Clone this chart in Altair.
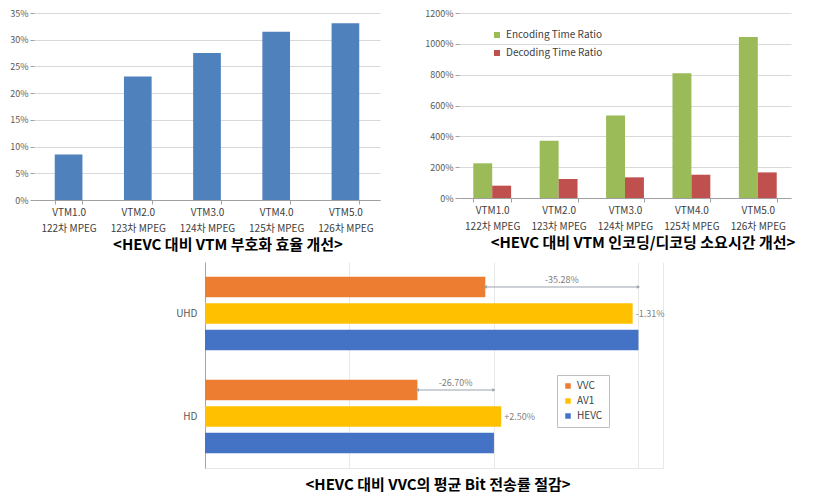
import altair as alt
import pandas as pd

FONT = "Noto Sans CJK KR"

# ---------- data ----------
versions = ["VTM1.0|122차 MPEG", "VTM2.0|123차 MPEG", "VTM3.0|124차 MPEG",
            "VTM4.0|125차 MPEG", "VTM5.0|126차 MPEG"]
coding_gain = [8.5, 23.1, 27.5, 31.5, 33.1]

ratio_series = ["Encoding Time Ratio", "Decoding Time Ratio"]
enc_ratio = [225, 372, 535, 810, 1044]
dec_ratio = [80, 123, 134, 151, 166]

resolutions = ["UHD", "HD"]
codecs = ["VVC", "AV1", "HEVC"]
bitrate_uhd = [1.94, 2.96, 3.0]
bitrate_hd = [1.47, 2.05, 2.0]
av1_notes = ["-1.31%", "+2.50%"]
vvc_notes = ["-35.28%", "-26.70%"]

captions = ["<HEVC 대비 VTM 부호화 효율 개선>",
            "<HEVC 대비 VTM 인코딩/디코딩 소요시간 개선>",
            "<HEVC 대비 VVC의 평균 Bit 전송률 절감>"]

# ---------- tables ----------
df1 = pd.DataFrame({"ver": versions, "gain": coding_gain})

rows2 = []
for v, e, d in zip(versions, enc_ratio, dec_ratio):
    rows2.append({"ver": v, "series": ratio_series[0], "val": e})
    rows2.append({"ver": v, "series": ratio_series[1], "val": d})
df2 = pd.DataFrame(rows2)

rows3 = []
for res, vals in zip(resolutions, [bitrate_uhd, bitrate_hd]):
    for c, v in zip(codecs, vals):
        rows3.append({"res": res, "codec": c, "value": v})
df3 = pd.DataFrame(rows3)

df_av1 = pd.DataFrame({"res": resolutions, "codec": ["AV1", "AV1"],
                       "value": [bitrate_uhd[1], bitrate_hd[1]], "note": av1_notes})
df_arrow = pd.DataFrame({"res": resolutions, "codec": ["VVC", "VVC"],
                         "start": [bitrate_uhd[0], bitrate_hd[0]],
                         "end": [bitrate_uhd[2], bitrate_hd[2]], "note": vvc_notes})

# ---------- common styles ----------
x_band_axis = dict(title=None, labelAngle=0, labelExpr="split(datum.label, '|')",
                   labelLineHeight=16, labelPadding=3, tickBand="extent", tickSize=4,
                   tickColor="#a0a0a0", domainColor="#a0a0a0", labelFont=FONT,
                   labelFontSize=10, labelColor="#404040", grid=False)
y_pct_axis = dict(title=None, labelExpr="datum.value + '%'", domain=False, tickSize=4,
                  tickColor="#a0a0a0", gridColor="#d9d9d9", labelFont=FONT,
                  labelFontSize=9, labelColor="#595959", labelPadding=2)


def caption(text, dx, offset):
    return alt.TitleParams(text, orient="bottom", frame="group", dx=dx, offset=offset,
                           font=FONT, fontSize=15, fontWeight="bold", color="#000000")


# ---------- panel 1 ----------
c1 = alt.Chart(df1).mark_bar(color="#4F81BD").encode(
    x=alt.X("ver:N", sort=versions, scale=alt.Scale(paddingInner=0.6, paddingOuter=0.3),
            axis=alt.Axis(**x_band_axis)),
    y=alt.Y("gain:Q", scale=alt.Scale(domain=[0, 35], nice=False),
            axis=alt.Axis(values=list(range(0, 36, 5)), minExtent=26, maxExtent=26, **y_pct_axis)),
).properties(width=346, height=187, title=caption(captions[0], 21, 5))

# ---------- panel 2 ----------
c2 = alt.Chart(df2).mark_bar().encode(
    x=alt.X("ver:N", sort=versions, scale=alt.Scale(paddingInner=0.43, paddingOuter=0.215),
            axis=alt.Axis(**x_band_axis)),
    xOffset=alt.XOffset("series:N", sort=ratio_series,
                        scale=alt.Scale(domain=ratio_series, paddingInner=0, paddingOuter=0)),
    y=alt.Y("val:Q", scale=alt.Scale(domain=[0, 1200], nice=False),
            axis=alt.Axis(values=list(range(0, 1201, 200)), minExtent=32, maxExtent=32, **y_pct_axis)),
    color=alt.Color("series:N", sort=ratio_series,
                    scale=alt.Scale(domain=ratio_series, range=["#9BBB59", "#C0504D"]),
                    legend=alt.Legend(orient="none", legendX=33, legendY=17, title=None,
                                      symbolType="square", symbolSize=36, symbolStrokeWidth=0,
                                      labelFont=FONT, labelFontSize=10, labelColor="#404040",
                                      rowPadding=8, padding=0)),
).properties(width=332, height=185, title=caption(captions[1], 18, 5))

# ---------- panel 3 ----------
y_enc = alt.Y("res:N", sort=resolutions, scale=alt.Scale(paddingInner=0, paddingOuter=0),
              axis=alt.Axis(title=None, domainColor="#a6a6a6", ticks=False, labelFont=FONT,
                            labelFontSize=10, labelColor="#595959", labelPadding=8,
                            minExtent=30, maxExtent=30))
yoff_enc = alt.YOffset("codec:N", sort=codecs,
                       scale=alt.Scale(domain=codecs, paddingInner=0.234, paddingOuter=0.56))
x_scale = alt.Scale(domain=[0, 3.17], nice=False, zero=True)
x_axis = alt.Axis(title=None, labels=False, ticks=False, values=[0, 1, 2, 3, 3.17],
                  gridColor="#e8e8e8", domainColor="#e6e6e6")

bars = alt.Chart(df3).mark_bar().encode(
    y=y_enc, yOffset=yoff_enc,
    x=alt.X("value:Q", scale=x_scale, axis=x_axis),
    color=alt.Color("codec:N", sort=codecs,
                    scale=alt.Scale(domain=codecs, range=["#ED7D31", "#FFC000", "#4472C4"]),
                    legend=alt.Legend(orient="none", legendX=523, legendY=113, title=None,
                                      symbolType="square", symbolSize=30, symbolStrokeWidth=0,
                                      strokeColor="#bfbfbf", padding=6, rowPadding=5,
                                      fillColor="white",
                                      labelFont=FONT, labelFontSize=10, labelColor="#404040")),
)

av1_text = alt.Chart(df_av1).mark_text(align="left", baseline="middle", dx=3, font=FONT,
                                       fontSize=9, color="#7f7f7f").encode(
    y=y_enc, yOffset=yoff_enc, x=alt.X("value:Q", scale=x_scale), text="note:N")

arrow_line = alt.Chart(df_arrow).mark_rule(color="#9aa3ad", strokeWidth=1).encode(
    y=y_enc, yOffset=yoff_enc, x=alt.X("start:Q", scale=x_scale), x2="end:Q")
arrow_l = alt.Chart(df_arrow).mark_point(shape="triangle-left", filled=True, size=14,
                                         color="#9aa3ad", opacity=1).encode(
    y=y_enc, yOffset=yoff_enc, x=alt.X("start:Q", scale=x_scale))
arrow_r = alt.Chart(df_arrow).mark_point(shape="triangle-right", filled=True, size=14,
                                         color="#9aa3ad", opacity=1).encode(
    y=y_enc, yOffset=yoff_enc, x=alt.X("end:Q", scale=x_scale))
arrow_text = alt.Chart(df_arrow).transform_calculate(
    mid="(datum.start + datum.end) / 2"
).mark_text(align="center", baseline="middle", dy=-7, font=FONT, fontSize=9,
            color="#7f7f7f").encode(
    y=y_enc, yOffset=yoff_enc, x=alt.X("mid:Q", scale=x_scale), text="note:N")

c3 = alt.layer(bars, arrow_line, arrow_l, arrow_r, arrow_text, av1_text).properties(
    width=458, height=206, title=caption(captions[2], 4, 10))

spacer = alt.Chart(pd.DataFrame({"v": [0]})).mark_point(opacity=0).encode(
    x=alt.value(0), y=alt.value(0)).properties(width=141, height=206)

top = alt.hconcat(c1, c2, spacing=44).resolve_scale(color="independent").resolve_legend(color="independent")
bottom = alt.hconcat(spacer, c3, spacing=0)

chart = alt.vconcat(top, bottom, spacing=6).resolve_scale(
    color="independent").resolve_legend(color="independent").properties(
    padding={"top": 1, "left": 0, "right": 0, "bottom": 0},
    background="white").configure_view(stroke=None)

chart.save("out.html", embed_options={"renderer": "svg", "actions": False})
